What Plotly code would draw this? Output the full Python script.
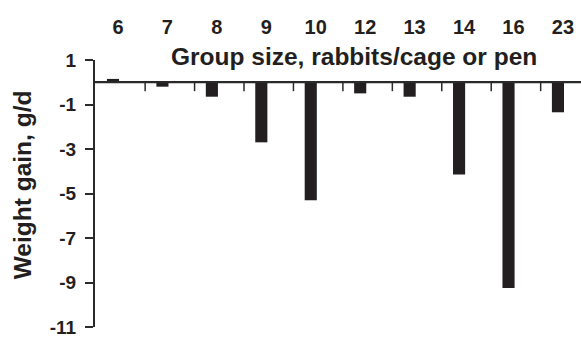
import plotly.graph_objects as go

group_sizes = ["6", "7", "8", "9", "10", "12", "13", "14", "16", "23"]
weight_gain = [0.15, -0.2, -0.65, -2.7, -5.3, -0.5, -0.65, -4.15, -9.25, -1.35]
y_tick_values = [1, -1, -3, -5, -7, -9, -11]
y_tick_labels = ["1", "-1", "-3", "-5", "-7", "-9", "-11"]

x_title = "Group size, rabbits/cage or pen"
y_title = "Weight gain, g/d"

n = len(group_sizes)
xpos = list(range(n))
xrange = [-0.364, 9.466]
yrange = [-11, 1]
ink = "#231f20"
axis_col = "#2a2a2a"
fam = "Liberation Sans, Arial, sans-serif"

fig = go.Figure()
fig.add_trace(go.Bar(x=xpos, y=weight_gain, width=0.245,
                     marker=dict(color=ink, line=dict(width=0)),
                     showlegend=False, hoverinfo="skip"))

# baseline at y = 0 across the x range, and short downward ticks between groups
fig.add_trace(go.Scatter(x=xrange, y=[0, 0], mode="lines",
                         line=dict(color=axis_col, width=2),
                         showlegend=False, hoverinfo="skip"))
tick_x = [i + 0.65 for i in xpos[:-1]]
tx, ty = [], []
for t in tick_x:
    tx += [t, t, None]
    ty += [0, -0.4, None]
fig.add_trace(go.Scatter(x=tx, y=ty, mode="lines",
                         line=dict(color=axis_col, width=1.5),
                         showlegend=False, hoverinfo="skip"))

fig.update_layout(
    width=581, height=338,
    margin=dict(l=95, r=0, t=60, b=6),
    paper_bgcolor="white", plot_bgcolor="rgba(0,0,0,0)",
    font=dict(family=fam, color=ink),
    xaxis=dict(range=xrange, side="top", anchor="y",
               tickvals=[i + 0.1 for i in xpos],
               ticktext=["<b>" + t + "</b>" for t in group_sizes],
               tickfont=dict(family=fam, size=20, color=ink),
               ticks="outside", ticklen=17, tickcolor="rgba(0,0,0,0)",
               showline=False, showgrid=False, zeroline=False),
    yaxis=dict(range=yrange, tickvals=y_tick_values,
               ticktext=["<b>" + t + "</b>\u00a0" for t in y_tick_labels],
               tickfont=dict(family=fam, size=19, color=ink),
               ticks="outside", ticklen=8, tickwidth=1.5, tickcolor=axis_col,
               showline=True, linecolor=axis_col, linewidth=1.6,
               showgrid=False, zeroline=True, zerolinecolor=axis_col,
               zerolinewidth=2, ticklabeloverflow="allow"),
    annotations=[
        dict(text="<b>" + x_title + "</b>", xref="paper", yref="paper",
             x=0.533, y=1.0147, xanchor="center", yanchor="middle",
             showarrow=False, font=dict(family=fam, size=24.5, color=ink)),
        dict(text="<b>" + y_title + "</b>", xref="paper", yref="paper",
             x=-0.15, y=0.531, xanchor="center", yanchor="middle",
             textangle=-90, showarrow=False,
             font=dict(family=fam, size=24.5, color=ink)),
    ],
)

fig.write_html("out.html")
